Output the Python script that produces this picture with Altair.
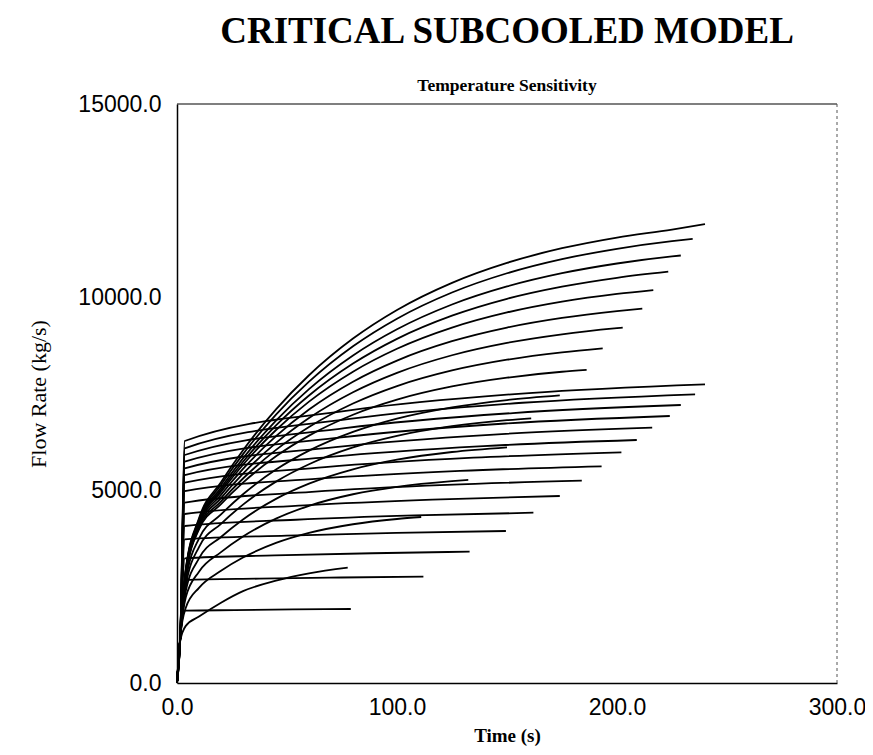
import altair as alt
import pandas as pd

# ---------------- data ----------------
# steep, rising family (values at a_times, truncated at each curve's end)
a_times = [0, 1.5, 4, 10, 20, 30, 45, 60, 80, 100, 125, 150, 175, 200, 225]
a_end_times = [240, 234.4, 229, 223.3, 216.5, 211.5, 202.6, 193.5, 186.2,
               174, 161, 150, 132.4, 111, 77.6]
a_end_values = [11890, 11505, 11075, 10655, 10180, 9700, 9205, 8670, 8110,
                7450, 6858, 6105, 5260, 4300, 2987]
a1 = [0, 1200, 2950, 4269, 5203, 6029, 7090, 7973, 8923, 9664, 10367, 10884, 11263, 11541, 11746]
a2 = [0, 1200, 2930, 4232, 5133, 5930, 6954, 7806, 8723, 9438, 10116, 10615, 10981, 11249, 11447]
a3 = [0, 1200, 2910, 4192, 5057, 5820, 6800, 7613, 8484, 9163, 9805, 10273, 10617, 10868, 11052]
a4 = [0, 1200, 2890, 4162, 4998, 5733, 6673, 7448, 8275, 8916, 9516, 9953, 10268, 10498]
a5 = [0, 1200, 2870, 4138, 4948, 5655, 6554, 7289, 8064, 8658, 9206, 9599, 9879, 10080]
a6 = [0, 1200, 2850, 4100, 4873, 5546, 6395, 7085, 7806, 8353, 8854, 9208, 9458, 9635]
a7 = [0, 1200, 2820, 4056, 4788, 5423, 6220, 6863, 7532, 8035, 8491, 8811, 9034, 9191]
a8 = [0, 1200, 2790, 4014, 4704, 5298, 6039, 6631, 7240, 7692, 8096, 8375, 8567]
a9 = [0, 1200, 2760, 3980, 4634, 5191, 5873, 6409, 6950, 7341, 7682, 7910, 8063]
a10 = [0, 1200, 2650, 3742, 4366, 4891, 5528, 6019, 6505, 6849, 7141, 7331]
a11 = [0, 1200, 2520, 3523, 4123, 4622, 5217, 5668, 6103, 6404, 6653, 6809]
a12 = [0, 1200, 2380, 3228, 3783, 4238, 4770, 5164, 5536, 5785, 5984]
a13 = [0, 1200, 2220, 2883, 3390, 3796, 4258, 4590, 4890, 5083, 5229]
a14 = [0, 1200, 1950, 2466, 2907, 3250, 3628, 3888, 4113, 4249]
a15 = [0, 1100, 1480, 1720, 2080, 2380, 2650, 2840]
a_curves = [a1, a2, a3, a4, a5, a6, a7, a8, a9, a10, a11, a12, a13, a14, a15]

# nearly flat family
b_rise_time = [0, 1.5, 3.5]
b_rise_value = [0, 1200]
b_start = [6269, 6080, 5907, 5733, 5561, 5388, 5189, 4970, 4671, 4378, 4067, 3722, 3230, 2668, 1873]
b_mid1_times = [80, 78.5, 76.3, 74.7, 72, 69.7, 67.3, 64.3, 61.3, 58, 54, 49.8, 44.3, 37.3, 26.3]
b_mid1 = [7074, 6840, 6602, 6363, 6113, 5857, 5591, 5293, 4951, 4603, 4229, 3820, 3305, 2703, 1889]
b_mid2_times = [160, 157, 152.7, 149.3, 144, 139.3, 134.7, 128.7, 122.7, 116, 108, 99.7, 88.7, 74.7, 52.7]
b_mid2 = [7512, 7260, 6994, 6723, 6437, 6138, 5837, 5496, 5132, 4753, 4341, 3891, 3362, 2733, 1905]
b_end_times = [240, 235.5, 229, 224, 216, 209, 202, 193, 184, 174, 162, 149.5, 133, 112, 79]
b_end = [7738, 7479, 7202, 6917, 6614, 6295, 5977, 5614, 5241, 4845, 4412, 3938, 3402, 2754, 1917]

x_ticks = [0, 100, 200, 300]
y_ticks = [0, 5000, 10000, 15000]

# ---------------- table ----------------
rows = []
for i, vals in enumerate(a_curves):
    ts = a_times[:len(vals)] + [a_end_times[i]]
    vs = vals + [a_end_values[i]]
    for t, v in zip(ts, vs):
        rows.append({"series": f"A{i+1}", "t": t, "v": v})
for i in range(len(b_start)):
    ts = b_rise_time + [b_mid1_times[i], b_mid2_times[i], b_end_times[i]]
    vs = b_rise_value + [b_start[i], b_mid1[i], b_mid2[i], b_end[i]]
    for t, v in zip(ts, vs):
        rows.append({"series": f"B{i+1}", "t": t, "v": v})
df = pd.DataFrame(rows)

x_scale = alt.Scale(domain=[0, 300], nice=False, zero=False)
y_scale = alt.Scale(domain=[0, 15000], nice=False)

lines = alt.Chart(df).mark_line(
    color="black", strokeWidth=1.8, interpolate="monotone"
).encode(
    x=alt.X("t:Q", scale=x_scale,
            axis=alt.Axis(values=x_ticks, format=".1f", title="Time (s)",
                          titleFontWeight="bold", titleFontSize=19,
                          titlePadding=7, labelPadding=13, labelFlush=False)),
    y=alt.Y("v:Q", scale=y_scale,
            axis=alt.Axis(values=y_ticks, format=".1f", title="Flow Rate (kg/s)",
                          titleFontWeight="normal", titleFontSize=22,
                          titlePadding=27, labelPadding=16, labelFlush=False)),
    detail="series:N",
)

top_rule = alt.Chart(pd.DataFrame({"y": [15000]})).mark_rule(
    color="black", strokeWidth=1.2
).encode(y="y:Q")
right_rule = alt.Chart(pd.DataFrame({"x": [300]})).mark_rule(
    color="#555555", strokeWidth=1, strokeDash=[3, 3]
).encode(x="x:Q")

chart = alt.layer(lines, top_rule, right_rule).properties(
    width=660,
    height=579,
    padding={"left": 169, "top": 96, "right": 28, "bottom": 64},
    autosize=alt.AutoSizeParams(type="none"),
    title=alt.TitleParams(
        text="CRITICAL SUBCOOLED MODEL",
        subtitle="Temperature Sensitivity",
        anchor="middle",
        font="Liberation Serif",
        fontSize=37,
        fontWeight="bold",
        color="black",
        subtitleFont="Liberation Serif",
        subtitleFontSize=17.5,
        subtitleFontWeight="bold",
        subtitleColor="black",
        subtitlePadding=26,
        offset=-2,
    ),
).configure_view(stroke=None).configure_axis(
    labelFont="Liberation Sans",
    labelFontSize=23,
    labelColor="black",
    titleFont="Liberation Serif",
    titleColor="black",
    domainColor="black",
    domainWidth=1.5,
    ticks=False,
    tickSize=0,
    grid=False,
)

chart.save("out.html", embed_options={"renderer": "svg", "actions": False})
